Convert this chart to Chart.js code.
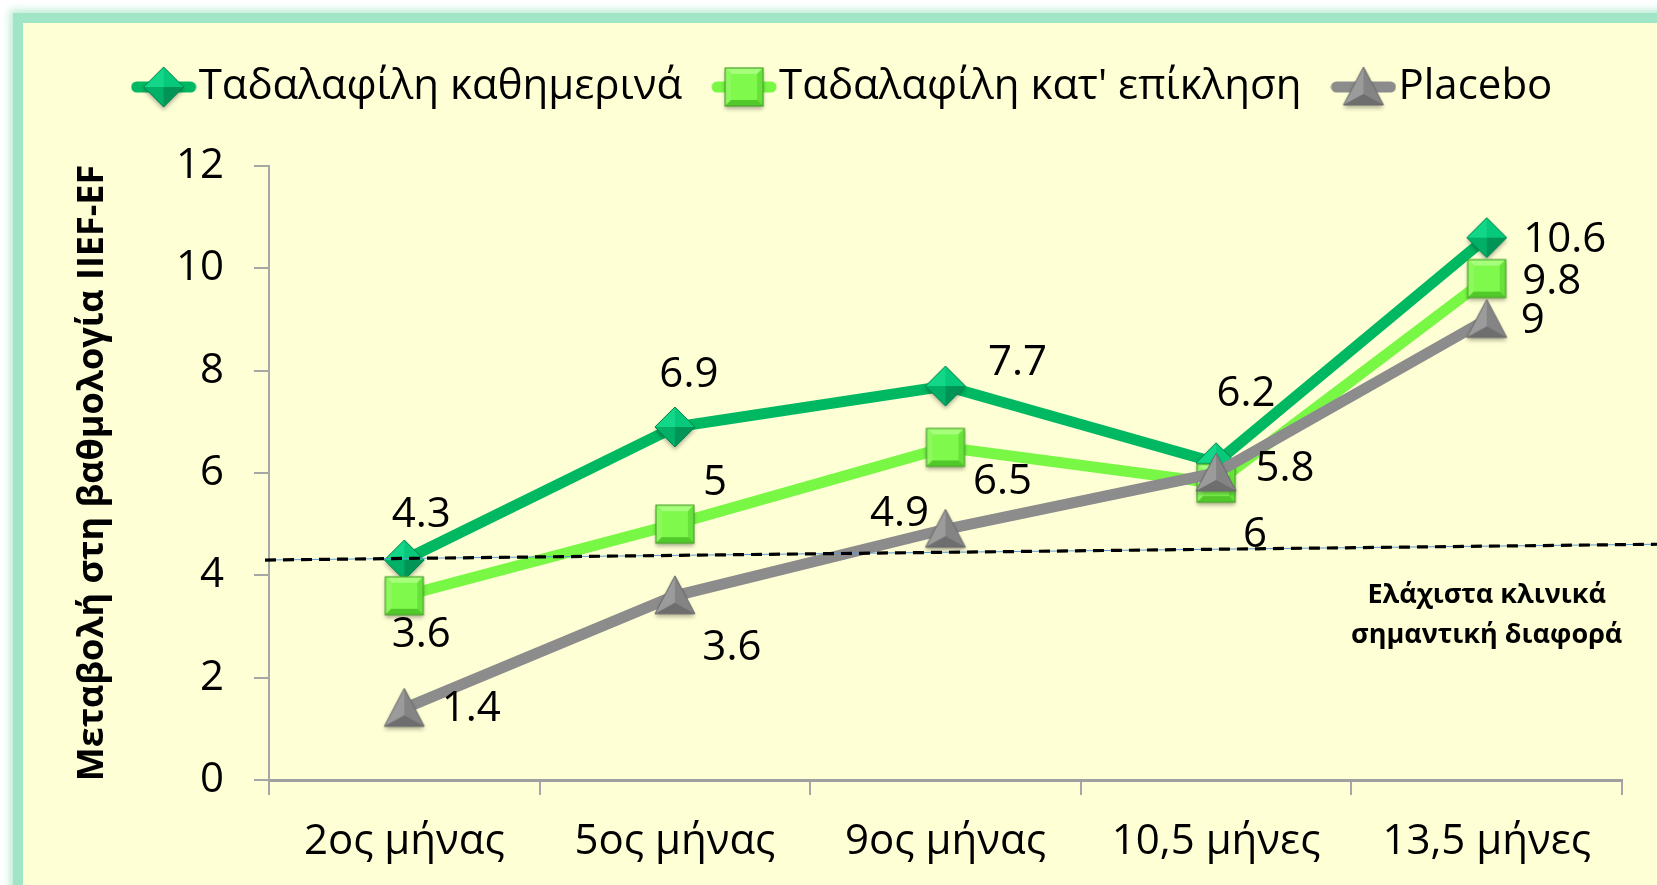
<!DOCTYPE html>
<html><head><meta charset="utf-8">
<script src="https://cdn.jsdelivr.net/npm/chart.js@4.4.1/dist/chart.umd.min.js"></script>
<style>
html,body{margin:0;padding:0;width:1657px;height:885px;overflow:hidden;background:#ffffff;}
#frame{position:absolute;left:13px;top:13px;width:1760px;height:1000px;border:10px solid #a0e6c6;background:#ffffd6;box-shadow:0 0 8px 3px rgba(160,230,198,0.75);box-sizing:border-box;}
#c{position:absolute;left:0;top:0;}
</style></head><body>
<div id="frame"></div>
<canvas id="c" width="1657" height="885"></canvas>
<script>
// ---- data ----
const categories = ['2ος μήνας', '5ος μήνας', '9ος μήνας', '10,5 μήνες', '13,5 μήνες'];
const seriesNames = ['Ταδαλαφίλη καθημερινά', "Ταδαλαφίλη κατ' επίκληση", 'Placebo'];
const dailyValues = [4.3, 6.9, 7.7, 6.2, 10.6];
const onDemandValues = [3.6, 5, 6.5, 5.8, 9.8];
const placeboValues = [1.4, 3.6, 4.9, 6, 9];
const yTicks = [0, 2, 4, 6, 8, 10, 12];
const yAxisTitle = 'Μεταβολή στη βαθμολογία IIEF-EF';
const mcidStart = 4.3;   // threshold value at the left of the plot
const mcidEnd = 4.6;     // threshold value at the right of the plot
const mcidNote = ['Ελάχιστα κλινικά', 'σημαντική διαφορά'];

// ---- label placement (style) ----
const labelOffsets = [
  [[17,-45],[14,-52],[72,-23],[30,-69],[78,2]],
  [[17,39],[40,-41],[57,35],[69,-14],[65,3]],
  [[67,1],[57,52],[-46,-15],[39,62],[46,2]]
];

const FONT = 'Open Sans';
const lineColors = ['#00b862', '#79f745', '#8c8c8c'];

// ---- marker images ----
function tri(g, a, b, c, col) { g.beginPath(); g.moveTo(a[0],a[1]); g.lineTo(b[0],b[1]); g.lineTo(c[0],c[1]); g.closePath(); g.fillStyle = col; g.fill(); }
function poly(g, pts, col) { g.beginPath(); g.moveTo(pts[0][0],pts[0][1]); for (let i=1;i<pts.length;i++) g.lineTo(pts[i][0],pts[i][1]); g.closePath(); g.fillStyle = col; g.fill(); }
const M = 52, O = 6; // canvas size, offset
function makeDiamond() {
  const c = document.createElement('canvas'); c.width = c.height = M; const g = c.getContext('2d');
  const T=[O+20,O+0], R=[O+40,O+20], B=[O+20,O+40], L=[O+0,O+20], C=[O+20,O+20];
  g.save(); g.shadowColor='rgba(0,0,0,0.3)'; g.shadowBlur=4; g.shadowOffsetY=3;
  poly(g,[T,R,B,L],'#00a862'); g.restore();
  tri(g,T,L,C,'#12d688'); tri(g,T,R,C,'#06c97b'); tri(g,L,B,C,'#00b066'); tri(g,R,B,C,'#009556');
  g.beginPath(); g.moveTo(T[0],T[1]); g.lineTo(R[0],R[1]); g.lineTo(B[0],B[1]); g.lineTo(L[0],L[1]); g.closePath();
  g.strokeStyle='#00854d'; g.lineWidth=1; g.stroke();
  return c;
}
function makeSquare() {
  const c = document.createElement('canvas'); c.width = c.height = M; const g = c.getContext('2d');
  const a=O+1, b=O+39, i1=O+7, i2=O+33;
  g.save(); g.shadowColor='rgba(0,0,0,0.3)'; g.shadowBlur=4; g.shadowOffsetY=3;
  poly(g,[[a,a],[b,a],[b,b],[a,b]],'#5fd833'); g.restore();
  poly(g,[[a,a],[b,a],[i2,i1],[i1,i1]],'#a6ff7a');
  poly(g,[[a,a],[i1,i1],[i1,i2],[a,b]],'#8ef95e');
  poly(g,[[b,a],[b,b],[i2,i2],[i2,i1]],'#66e23a');
  poly(g,[[a,b],[i1,i2],[i2,i2],[b,b]],'#52c92b');
  poly(g,[[i1,i1],[i2,i1],[i2,i2],[i1,i2]],'#7ef94c');
  g.strokeStyle='#4aa52a'; g.lineWidth=1.2; g.strokeRect(a,a,b-a,b-a);
  return c;
}
function makeTriangle() {
  const c = document.createElement('canvas'); c.width = c.height = M; const g = c.getContext('2d');
  const T=[O+20,O+0], BL=[O+0,O+38], BR=[O+40,O+38], C=[O+20,O+27];
  g.save(); g.shadowColor='rgba(0,0,0,0.3)'; g.shadowBlur=4; g.shadowOffsetY=3;
  poly(g,[T,BR,BL],'#808080'); g.restore();
  tri(g,T,BL,C,'#9b9b9b'); tri(g,T,BR,C,'#848484'); tri(g,BL,BR,C,'#6e6e6e');
  g.beginPath(); g.moveTo(T[0],T[1]); g.lineTo(BR[0],BR[1]); g.lineTo(BL[0],BL[1]); g.closePath();
  g.strokeStyle='#6a6a6a'; g.lineWidth=1; g.stroke();
  return c;
}
const markers = [makeDiamond(), makeSquare(), makeTriangle()];
function makeLegendImg(i) {
  const c = document.createElement('canvas'); c.width = 66; c.height = M; const g = c.getContext('2d');
  g.strokeStyle = lineColors[i]; g.lineWidth = 11; g.lineCap = 'round';
  g.beginPath(); g.moveTo(6, M/2); g.lineTo(60, M/2); g.stroke();
  g.drawImage(markers[i], 33 - M/2, 0);
  return c;
}
const legendImgs = [0,1,2].map(makeLegendImg);

// ---- plugins ----
const legendSpacer = {
  id: 'legendSpacer',
  beforeLayout(chart) {
    const lg = chart.legend;
    if (lg && !lg._spaced) {
      const f = lg.fit;
      lg.fit = function() { f.call(this); this.height += 48; };
      lg._spaced = true;
    }
  }
};
const overlay = {
  id: 'overlay',
  afterDatasetsDraw(chart) {
    const {ctx, chartArea, scales} = chart;
    const y = scales.y, x = scales.x;
    const y0 = y.getPixelForValue(mcidStart), y1 = y.getPixelForValue(mcidEnd);
    const slope = (y1 - y0) / (chartArea.right - chartArea.left);
    const xs = chartArea.left - 4, xe = chart.width;
    const ys = y0 + slope * (xs - chartArea.left), ye = y0 + slope * (xe - chartArea.left);
    ctx.save();
    ctx.strokeStyle = '#5b9bd5'; ctx.lineWidth = 1;
    ctx.beginPath(); ctx.moveTo(xs, ys); ctx.lineTo(xe, ye); ctx.stroke();
    ctx.strokeStyle = '#000'; ctx.lineWidth = 3.2; ctx.setLineDash([11, 7]);
    ctx.beginPath(); ctx.moveTo(xs, ys); ctx.lineTo(xe, ye); ctx.stroke();
    ctx.setLineDash([]);
    // data labels
    ctx.fillStyle = '#000'; ctx.font = '42px "' + FONT + '"'; ctx.textAlign = 'center'; ctx.textBaseline = 'middle';
    chart.data.datasets.forEach((ds, di) => {
      const meta = chart.getDatasetMeta(di);
      meta.data.forEach((pt, i) => {
        const off = labelOffsets[di][i];
        ctx.fillText(String(ds.data[i]), pt.x + off[0], pt.y + off[1]);
      });
    });
    // note
    const nx = x.getPixelForValue(categories.length - 1);
    const lineY = y0 + slope * (nx - chartArea.left);
    ctx.font = 'bold 27px "' + FONT + '"';
    ctx.fillText(mcidNote[0], nx, lineY + 49);
    ctx.fillText(mcidNote[1], nx, lineY + 89);
    ctx.restore();
  }
};

const tickFont = {family: FONT, size: 42};
new Chart(document.getElementById('c'), {
  type: 'line',
  data: {
    labels: categories,
    datasets: [
      {label: seriesNames[0], data: dailyValues, borderColor: lineColors[0], backgroundColor: lineColors[0], borderWidth: 11, pointStyle: markers[0], pointRadius: 20, order: 3, tension: 0},
      {label: seriesNames[1], data: onDemandValues, borderColor: lineColors[1], backgroundColor: lineColors[1], borderWidth: 11, pointStyle: markers[1], pointRadius: 20, order: 2, tension: 0},
      {label: seriesNames[2], data: placeboValues, borderColor: lineColors[2], backgroundColor: lineColors[2], borderWidth: 11, pointStyle: markers[2], pointRadius: 20, order: 1, tension: 0}
    ]
  },
  options: {
    responsive: false,
    animation: false,
    layout: {padding: {top: 18, right: 35, bottom: 0, left: 80}},
    plugins: {
      tooltip: {enabled: false},
      legend: {
        position: 'top',
        labels: {
          usePointStyle: true, pointStyleWidth: 28, padding: 48,
          font: {family: FONT, size: 42}, color: '#000',
          generateLabels(chart) {
            return chart.data.datasets.map((ds, i) => ({
              text: ds.label, pointStyle: legendImgs[i], fillStyle: ds.borderColor,
              strokeStyle: ds.borderColor, lineWidth: 0, hidden: false, datasetIndex: i, fontColor: '#000'
            }));
          }
        }
      }
    },
    scales: {
      x: {
        offset: true,
        grid: {offset: true, drawOnChartArea: false, drawTicks: true, tickLength: 15, color: '#a6a6a6', lineWidth: 2},
        border: {color: '#a0a0a0', width: 3},
        ticks: {font: tickFont, color: '#000', padding: 22, maxRotation: 0, autoSkip: false},
        afterFit(s) { s.height = 105; }
      },
      y: {
        min: 0, max: 12,
        afterBuildTicks(s) { s.ticks = yTicks.map(v => ({value: v})); },
        grid: {drawOnChartArea: false, drawTicks: true, tickLength: 15, color: '#a6a6a6', lineWidth: 2},
        border: {color: '#a6a6a6', width: 2},
        ticks: {font: tickFont, color: '#000', padding: 30},
        title: {display: true, text: yAxisTitle, color: '#000', font: {family: FONT, size: 36, weight: 'bold'}, padding: {top: -9, bottom: 0}},
        afterFit(s) { s.width = 189; }
      }
    }
  },
  plugins: [legendSpacer, overlay]
});
</script>
</body></html>
